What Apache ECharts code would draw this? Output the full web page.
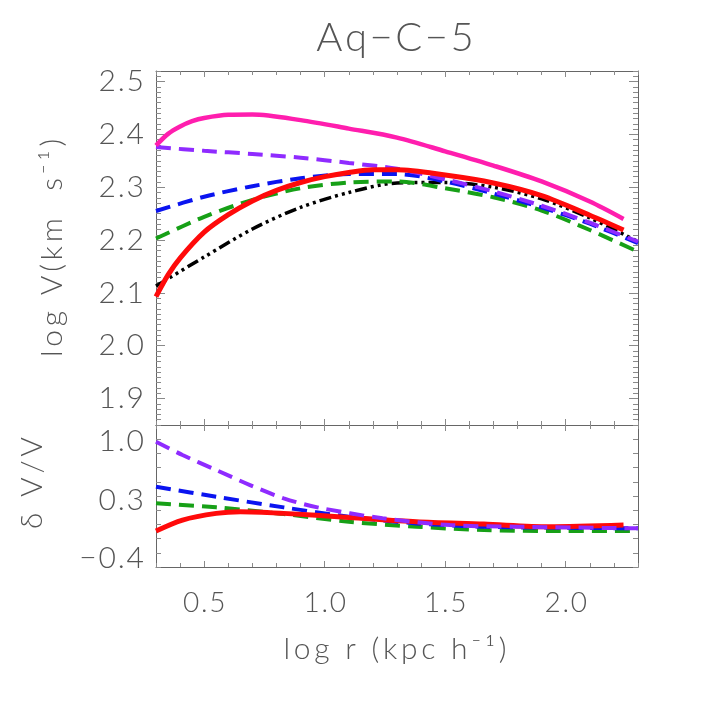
<!DOCTYPE html>
<html>
<head>
<meta charset="utf-8">
<script src="https://cdn.jsdelivr.net/npm/echarts@6/dist/echarts.min.js"></script>
<style>
  html, body { margin: 0; padding: 0; background: #fff; }
  #chart { width: 709px; height: 709px; }
</style>
</head>
<body>
<div id="chart"></div>
<script>
// upper panel: log V vs log r
var magX = [0.3, 0.35, 0.4, 0.45, 0.5, 0.6, 0.7, 0.9, 1.1, 1.3, 1.5, 1.7, 1.9, 2.1, 2.24]
var magY = [2.379, 2.401, 2.415, 2.425, 2.431, 2.437, 2.4375, 2.427, 2.411, 2.394, 2.368, 2.341, 2.311, 2.273, 2.240]
var purX = [0.3, 0.5, 0.7, 0.9, 1.1, 1.3, 1.5, 1.7, 1.9, 2.1, 2.3]
var purY = [2.376, 2.369, 2.363, 2.356, 2.346, 2.335, 2.315, 2.292, 2.265, 2.233, 2.197]
var bluX = [0.3, 0.5, 0.7, 0.9, 1.1, 1.3, 1.5, 1.7, 1.9, 2.1, 2.3]
var bluY = [2.255, 2.282, 2.302, 2.317, 2.325, 2.325, 2.311, 2.288, 2.262, 2.231, 2.194]
var grnX = [0.3, 0.5, 0.7, 0.9, 1.1, 1.3, 1.5, 1.7, 1.9, 2.1, 2.3]
var grnY = [2.203, 2.244, 2.276, 2.298, 2.309, 2.311, 2.298, 2.281, 2.256, 2.219, 2.178]
var blkX = [0.3, 0.5, 0.7, 0.9, 1.1, 1.3, 1.5, 1.7, 1.9, 2.1, 2.3]
var blkY = [2.113, 2.168, 2.221, 2.262, 2.290, 2.308, 2.309, 2.300, 2.278, 2.242, 2.197]
var redX = [0.3, 0.35, 0.4, 0.5, 0.6, 0.7, 0.8, 0.9, 1.0, 1.1, 1.2, 1.3, 1.5, 1.7, 1.9, 2.1, 2.24]
var redY = [2.093, 2.134, 2.166, 2.215, 2.248, 2.274, 2.294, 2.309, 2.320, 2.328, 2.333, 2.333, 2.323, 2.308, 2.284, 2.247, 2.219]

// lower panel: delta V / V
var dPurX = [0.3, 0.41, 0.55, 0.69, 0.83, 0.97, 1.24, 1.52, 1.8, 2.3]
var dPurY = [1.0, 0.841, 0.661, 0.481, 0.322, 0.214, 0.083, 0.002, -0.018, -0.037]
var dBluX = [0.3, 0.55, 0.83, 1.1, 1.38, 1.66, 2.0, 2.3]
var dBluY = [0.461, 0.341, 0.214, 0.102, 0.022, -0.018, -0.03, -0.037]
var dGrnX = [0.3, 0.55, 0.83, 1.1, 1.38, 1.66, 1.93, 2.3]
var dGrnY = [0.262, 0.214, 0.134, 0.042, -0.018, -0.057, -0.069, -0.069]
var dRedX = [0.3, 0.41, 0.55, 0.65, 0.83, 1.1, 1.38, 1.66, 1.93, 2.24]
var dRedY = [-0.069, 0.062, 0.142, 0.162, 0.142, 0.094, 0.042, 0.014, -0.018, 0.002]

var INK = '#555'      // text
var FRAME = '#666'    // box
var TICK = '#8a8a8a'  // tick marks
var FONT = 'Lato'

// panel frame in pixels
var L = 156, W = 482, T1 = 71, H1 = 354, T2 = 425, H2 = 142
var PX = W / 2.0          // px per unit of log r (0.3 .. 2.3)
var PV = H1 / 0.67        // px per unit of log V (1.85 .. 2.52)
var PD = H2 / 1.7         // px per unit of dV/V (-0.5 .. 1.2)

function pairs (xs, ys) {
  return xs.map(function (x, i) { return [x, ys[i]] })
}
// widen the text a bit, like the plotting font of the original
function spaced (s, sp) {
  return s.split('').join(sp)
}
function lab (v) {
  return spaced(v.toFixed(1).replace('-', '\u2212'), '\u200a')
}
function labels (size, margin) {
  return { show: true, margin: margin, fontSize: size, color: INK, fontFamily: FONT, fontWeight: 300, formatter: lab }
}
// labels kept "on" but empty: ticks of these axes stay drawn
var NOLABEL = { show: true, formatter: function () { return '' } }

function axis (grid, pos, min, max, step, len, line, label) {
  return {
    type: 'value', gridIndex: grid, position: pos, min: min, max: max, interval: step,
    axisLine: { show: line, onZero: false, lineStyle: { color: FRAME, width: 1 } },
    splitLine: { show: false },
    axisTick: { show: len > 0, inside: true, length: len, lineStyle: { color: TICK, width: 1 } },
    axisLabel: label || NOLABEL
  }
}
function hidden (grid, min, max) {
  return { type: 'value', gridIndex: grid, min: min, max: max, show: false, splitLine: { show: false } }
}

function line (name, x, y, xi, yi, color, width, dash) {
  return {
    name: name, type: 'line', xAxisIndex: xi, yAxisIndex: yi,
    data: pairs(x, y), smooth: 0.3, showSymbol: false, silent: true, z: 3,
    lineStyle: { color: color, width: width, type: dash || 'solid', cap: 'butt' }
  }
}

var C_MAG = '#ff1eae', C_PUR = '#8f2bff', C_BLU = '#0a14f0', C_GRN = '#17a017', C_RED = '#ff0a0a', C_BLK = '#000'
var DASH = [15, 8]
var DOTS = [12, 4, 3, 4, 3, 4, 3, 4]

var chart = echarts.init(document.getElementById('chart'))
chart.setOption({
  animation: false,
  backgroundColor: '#fff',
  grid: [
    { left: L, top: T1, width: W, height: H1 },                                  // 0 upper panel
    { left: L, top: T2, width: W, height: H2 },                                  // 1 lower panel
    { left: L + 0.2 * PX, top: T1, width: 1.5 * PX, height: H1 },                // 2 long x ticks, upper
    { left: L + 0.2 * PX, top: T2, width: 1.5 * PX, height: H2 },                // 3 long x ticks + labels, lower
    { left: L, top: T1 + 0.02 * PV, width: W, height: 0.6 * PV },                // 4 long y ticks + labels, upper
    { left: L, top: T2 + 0.2 * PD, width: W, height: 1.4 * PD }                  // 5 y labels, lower
  ],
  xAxis: [
    axis(0, 'bottom', 0.3, 2.3, 0.1, 4, true),
    axis(0, 'top', 0.3, 2.3, 0.1, 4, true),
    axis(1, 'bottom', 0.3, 2.3, 0.1, 4, true),
    axis(1, 'top', 0.3, 2.3, 0.1, 4, true),
    axis(2, 'bottom', 0.5, 2.0, 0.5, 6, false),
    axis(2, 'top', 0.5, 2.0, 0.5, 6, false),
    axis(3, 'bottom', 0.5, 2.0, 0.5, 6, false, labels(28, 22)),
    axis(3, 'top', 0.5, 2.0, 0.5, 6, false),
    hidden(4, 0, 1),
    hidden(5, 0, 1)
  ],
  yAxis: [
    axis(0, 'left', 1.85, 2.52, 0.01, 5, true),
    axis(0, 'right', 1.85, 2.52, 0.01, 5, true),
    axis(1, 'left', -0.5, 1.2, 0.17, 5, true),
    axis(1, 'right', -0.5, 1.2, 0.17, 5, true),
    hidden(2, 0, 1),
    hidden(3, 0, 1),
    axis(4, 'left', 1.9, 2.5, 0.1, 9, false, labels(30, 12)),
    axis(4, 'right', 1.9, 2.5, 0.1, 9, false),
    axis(5, 'left', -0.4, 1.0, 0.7, 0, false, labels(30, 12))
  ],
  series: [
    line('black', blkX, blkY, 0, 0, C_BLK, 3.5, DOTS),
    line('green', grnX, grnY, 0, 0, C_GRN, 4, DASH),
    line('blue', bluX, bluY, 0, 0, C_BLU, 4, DASH),
    line('purple', purX, purY, 0, 0, C_PUR, 4, DASH),
    line('red', redX, redY, 0, 0, C_RED, 5, null),
    line('magenta', magX, magY, 0, 0, C_MAG, 4.5, null),
    line('dgreen', dGrnX, dGrnY, 2, 2, C_GRN, 4, DASH),
    line('dblue', dBluX, dBluY, 2, 2, C_BLU, 4, DASH),
    line('dred', dRedX, dRedY, 2, 2, C_RED, 5, null),
    line('dpurple', dPurX, dPurY, 2, 2, C_PUR, 4, DASH)
  ],
  graphic: [
    { type: 'text', x: 395, y: 38, style: { text: spaced('Aq\u2212C\u22125', '\u200a'), font: '300 40px Lato', fill: INK, align: 'center', verticalAlign: 'middle' } },
    { type: 'text', x: 52, y: 248, rotation: Math.PI / 2, style: { text: spaced('log V(km  s\u207b\u00b9)', '\u2009'), font: '300 30px Lato', fill: INK, align: 'center', verticalAlign: 'middle' } },
    { type: 'text', x: 32, y: 483, rotation: Math.PI / 2, style: { text: spaced('\u03b4 V/V', '\u2009'), font: '300 30px Lato', fill: INK, align: 'center', verticalAlign: 'middle' } },
    { type: 'text', x: 395, y: 649, style: { text: spaced('log r (kpc h\u207b\u00b9)', '\u2009'), font: '300 30px Lato', fill: INK, align: 'center', verticalAlign: 'middle' } }
  ]
})
</script>
</body>
</html>
